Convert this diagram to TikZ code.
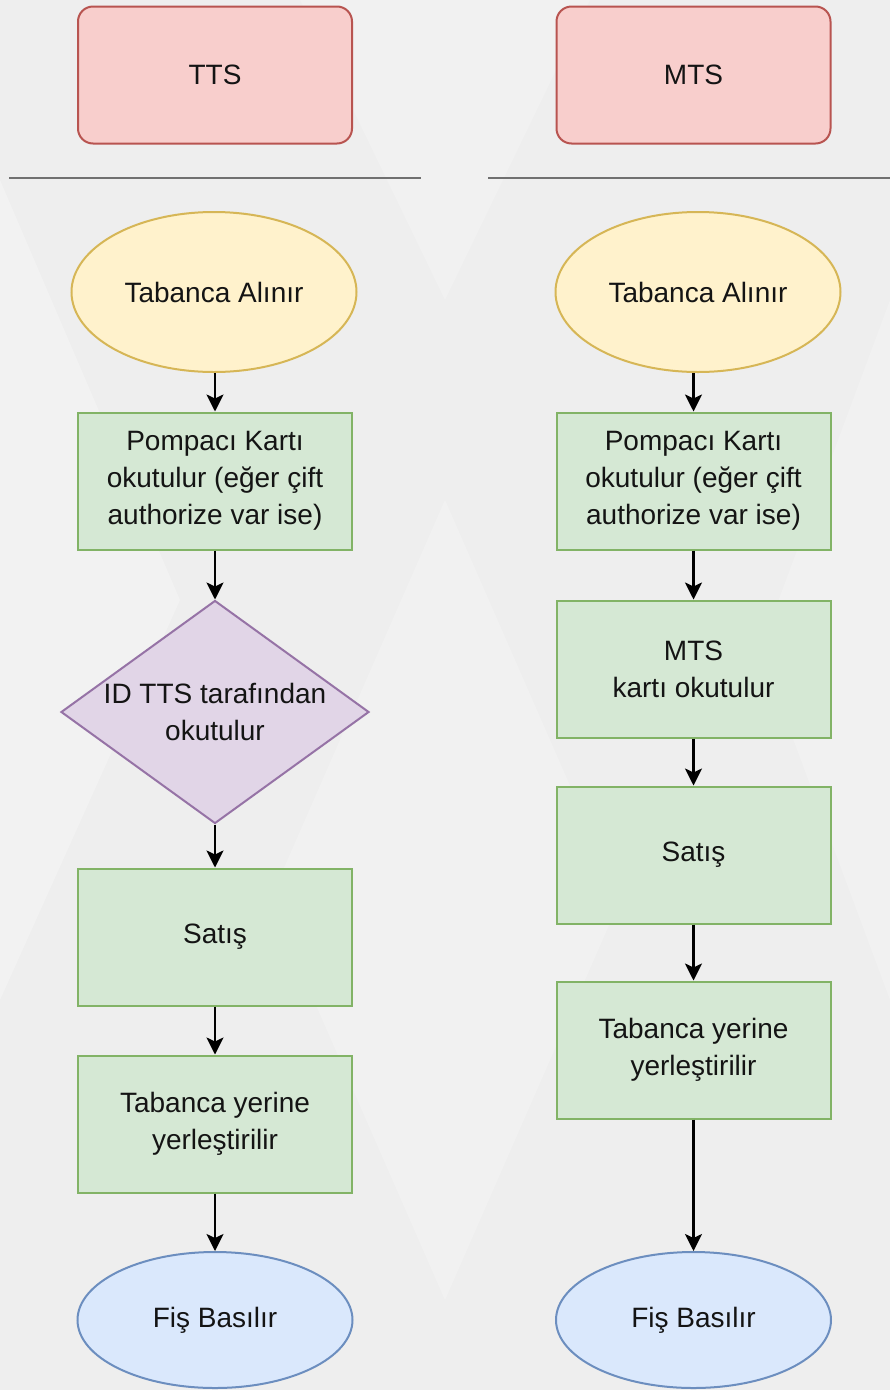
\documentclass[tikz,border=0pt]{standalone}
\usepackage{fontspec}
\setmainfont{Liberation Sans}
\usetikzlibrary{shapes.geometric,arrows.meta}
\definecolor{bgc}{HTML}{EEEEEE}
\definecolor{bgl}{HTML}{F4F4F4}
\definecolor{redf}{HTML}{F8CECC}\definecolor{redd}{HTML}{B85450}
\definecolor{yelf}{HTML}{FFF2CC}\definecolor{yeld}{HTML}{D6B656}
\definecolor{grnf}{HTML}{D5E8D4}\definecolor{grnd}{HTML}{82B366}
\definecolor{purf}{HTML}{E1D5E7}\definecolor{purd}{HTML}{9673A6}
\definecolor{bluf}{HTML}{DAE8FC}\definecolor{blud}{HTML}{6C8EBF}
\definecolor{txt}{HTML}{141414}
\definecolor{sep}{HTML}{707070}
\tikzset{
  base/.style={line width=2pt, text=txt, font=\fontsize{28}{37}\selectfont, align=center, inner sep=0pt},
  header/.style={base, draw=redd, fill=redf, rounded corners=15pt, minimum width=274pt, minimum height=137pt},
  startnode/.style={base, ellipse, draw=yeld, fill=yelf, minimum width=285pt, minimum height=160pt},
  procbox/.style={base, rectangle, draw=grnd, fill=grnf, minimum width=274pt, minimum height=137pt},
  decide/.style={base, diamond, draw=purd, fill=purf, minimum width=308pt, minimum height=223pt},
  endnode/.style={base, ellipse, draw=blud, fill=bluf, minimum width=275pt, minimum height=136pt},
  conn/.style={line width=2.4pt, black, -{Stealth[length=17pt,width=17pt,inset=4pt]}},
  sepline/.style={line width=2.4pt, sep}
}
\begin{document}
\begin{tikzpicture}[x=1pt,y=-1pt]
\path[fill=bgc,use as bounding box] (0,0) rectangle (890,1390);
% faint background facets
\fill[bgl,opacity=0.7] (0,180) -- (180,600) -- (0,1000) -- cycle;
\fill[bgl,opacity=0.6] (445,500) -- (620,900) -- (445,1300) -- (270,900) -- cycle;
\fill[bgl,opacity=0.5] (890,300) -- (760,650) -- (890,1000) -- cycle;
\fill[bgl,opacity=0.5] (300,0) -- (445,300) -- (590,0) -- cycle;

% left column
\node[header] (h1) at (215,75) {TTS};
\coordinate (l1a) at (9,178); \coordinate (l1b) at (421,178);
\draw[sepline] (l1a) -- (l1b);
\node[startnode] (e1) at (214,292) {Tabanca Alınır};
\node[procbox] (p1) at (215,481) {Pompacı Kartı\\okutulur (eğer çift\\authorize var ise)};
\node[decide, label={[base,align=center]center:ID TTS tarafından\\okutulur}] (d1) at (215,712) {};
\node[procbox] (s1) at (215,937) {Satış};
\node[procbox] (t1) at (215,1124) {Tabanca yerine\\yerleştirilir};
\node[endnode] (f1) at (215,1320) {Fiş Basılır};

% right column
\node[header] (h2) at (693.5,75) {MTS};
\coordinate (l2a) at (488,178); \coordinate (l2b) at (890,178);
\draw[sepline] (l2a) -- (l2b);
\node[startnode] (e2) at (698,292) {Tabanca Alınır};
\node[procbox] (p2) at (693.5,481) {Pompacı Kartı\\okutulur (eğer çift\\authorize var ise)};
\node[procbox] (m2) at (693.5,669) {MTS\\kartı okutulur};
\node[procbox] (s2) at (693.5,855) {Satış};
\node[procbox] (t2) at (693.5,1050) {Tabanca yerine\\yerleştirilir};
\node[endnode] (f2) at (693.5,1320) {Fiş Basılır};

% connectors
\draw[conn] (e1.south -| p1.north) -- (p1.north);
\draw[conn] (p1.south) -- (d1.north);
\draw[conn] (d1.south) -- (s1.north);
\draw[conn] (s1.south) -- (t1.north);
\draw[conn] (t1.south) -- (f1.north);

\draw[conn] (e2.south -| p2.north) -- (p2.north);
\draw[conn] (p2.south) -- (m2.north);
\draw[conn] (m2.south) -- (s2.north);
\draw[conn] (s2.south) -- (t2.north);
\draw[conn] (t2.south) -- (f2.north);
\end{tikzpicture}
\end{document}
